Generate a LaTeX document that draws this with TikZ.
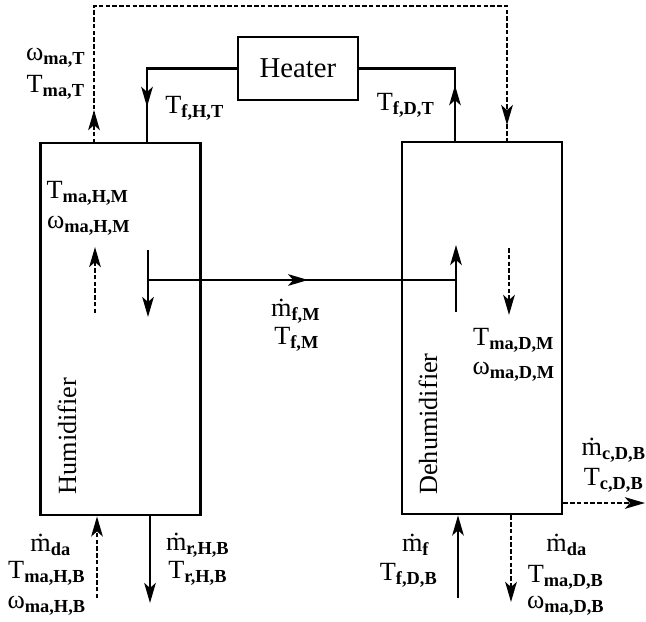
\documentclass[tikz,border=0pt]{standalone}
\usepackage{fontspec}
\setmainfont{Liberation Serif}
\usetikzlibrary{arrows.meta,decorations.markings,positioning}

\newcommand{\sv}[2]{#1\textsubscript{\textbf{#2}}}

\begin{document}
\begin{tikzpicture}[x=0.4pt,y=-0.4pt,line width=1pt,>={Stealth[length=8pt,width=4.6pt,inset=2pt]}]
  \tikzstyle{unitbox}=[rectangle,draw,line width=1.1pt,minimum width=64pt,minimum height=148.8pt,inner sep=0pt]
  \tikzstyle{heatbox}=[rectangle,draw,line width=1.1pt,minimum width=48pt,minimum height=25.2pt,font=\fontsize{11.5}{13}\selectfont]
  \tikzstyle{lbl}=[inner sep=0.5pt,font=\fontsize{10.5}{12}\selectfont]
  \tikzstyle{airline}=[line width=1.1pt,dash pattern=on 1.8pt off 0.9pt]
  \tikzstyle{flowmark}=[postaction={decorate,decoration={markings,mark=at position #1 with {\arrow{>}}}}]

  \useasboundingbox (0,0) rectangle (646,621);

  % units
  \node[unitbox] (hum) at (120.5,329) {};
  \node[unitbox] (dehum) at (482,328) {};
  \node[heatbox] (heater) at (298,68.5) {Heater};
  \node[lbl,rotate=90] (humname) at (67,436) {Humidifier};
  \node[lbl,rotate=90] (dehumname) at (428,424) {Dehumidifier};

  % water loop through heater
  \coordinate (hpipe) at (147,143);
  \coordinate (dpipe) at (455,143);
  \draw[flowmark=0.78] (heater.west) -| (hpipe);
  \draw[flowmark=0.34] (dpipe) |- (heater.east);
  \node[lbl] (tfht) at (195,108) {\sv{T}{f,H,T}};
  \node[lbl] (tfdt) at (406,105) {\sv{T}{f,D,T}};

  % air loop on top
  \coordinate (hairtop) at (94,143);
  \coordinate (dairtop) at (507,143);
  \coordinate (looptl) at (94,6);
  \coordinate (looptr) at (507,6);
  \draw[airline,flowmark=0.048,flowmark=0.974] (hairtop) -- (looptl) -- (looptr) -- (dairtop);
  \node[lbl] (wmat) at (56,58) {\sv{ω}{ma,T}};
  \node[lbl] (tmat) at (56,87) {\sv{T}{ma,T}};

  % inside the columns
  \coordinate (hfin) at (148,250);
  \coordinate (hfout) at (148,317);
  \coordinate (hjoin) at (148,280);
  \coordinate (djoin) at (456,280);
  \coordinate (dfin) at (456,312);
  \coordinate (dfout) at (456,245);
  \coordinate (hain) at (95,313);
  \coordinate (haout) at (95,247);
  \coordinate (dain) at (509,248);
  \coordinate (daout) at (509,315);
  \draw[->] (hfin) -- (hfout);
  \draw[flowmark=0.52] (hjoin) -- (djoin);
  \draw[->] (dfin) -- (dfout);
  \draw[airline,->] (hain) -- (haout);
  \draw[airline,->] (dain) -- (daout);
  \node[lbl] (tmahm) at (88,193) {\sv{T}{ma,H,M}};
  \node[lbl] (wmahm) at (89,226) {\sv{ω}{ma,H,M}};
  \node[lbl] (mfm) at (296,311) {\sv{\.{m}}{f,M}};
  \node[lbl] (tfm) at (297,339) {\sv{T}{f,M}};
  \node[lbl] (tmadm) at (514,340) {\sv{T}{ma,D,M}};
  \node[lbl] (wmadm) at (514,372) {\sv{ω}{ma,D,M}};

  % bottom streams
  \coordinate (hairin) at (97,598);
  \coordinate (hbrine) at (150,603);
  \coordinate (dfeed) at (458,598);
  \coordinate (dairout) at (511,602);
  \coordinate (dcond) at (645,503);
  \draw[airline,->] (hairin) -- (hairin |- hum.south);
  \draw[->] (hbrine |- hum.south) -- (hbrine);
  \draw[->] (dfeed) -- (dfeed |- dehum.south);
  \draw[airline,->] (dairout |- dehum.south) -- (dairout);
  \draw[airline,->] (dehum.east |- dcond) -- (dcond);

  \node[lbl] (mdah) at (51,545) {\sv{\.{m}}{da}};
  \node[lbl] (tmahb) at (47,573) {\sv{T}{ma,H,B}};
  \node[lbl] (wmahb) at (47,606) {\sv{ω}{ma,H,B}};
  \node[lbl] (mrhb) at (198,545) {\sv{\.{m}}{r,H,B}};
  \node[lbl] (trhb) at (198,573) {\sv{T}{r,H,B}};
  \node[lbl] (mf) at (416,545) {\sv{\.{m}}{f}};
  \node[lbl] (tfdb) at (409,575) {\sv{T}{f,D,B}};
  \node[lbl] (mdad) at (567,545) {\sv{\.{m}}{da}};
  \node[lbl] (tmadb) at (566,577) {\sv{T}{ma,D,B}};
  \node[lbl] (wmadb) at (566,606) {\sv{ω}{ma,D,B}};
  \node[lbl] (mcdb) at (614,450) {\sv{\.{m}}{c,D,B}};
  \node[lbl] (tcdb) at (614,480) {\sv{T}{c,D,B}};
\end{tikzpicture}
\end{document}
